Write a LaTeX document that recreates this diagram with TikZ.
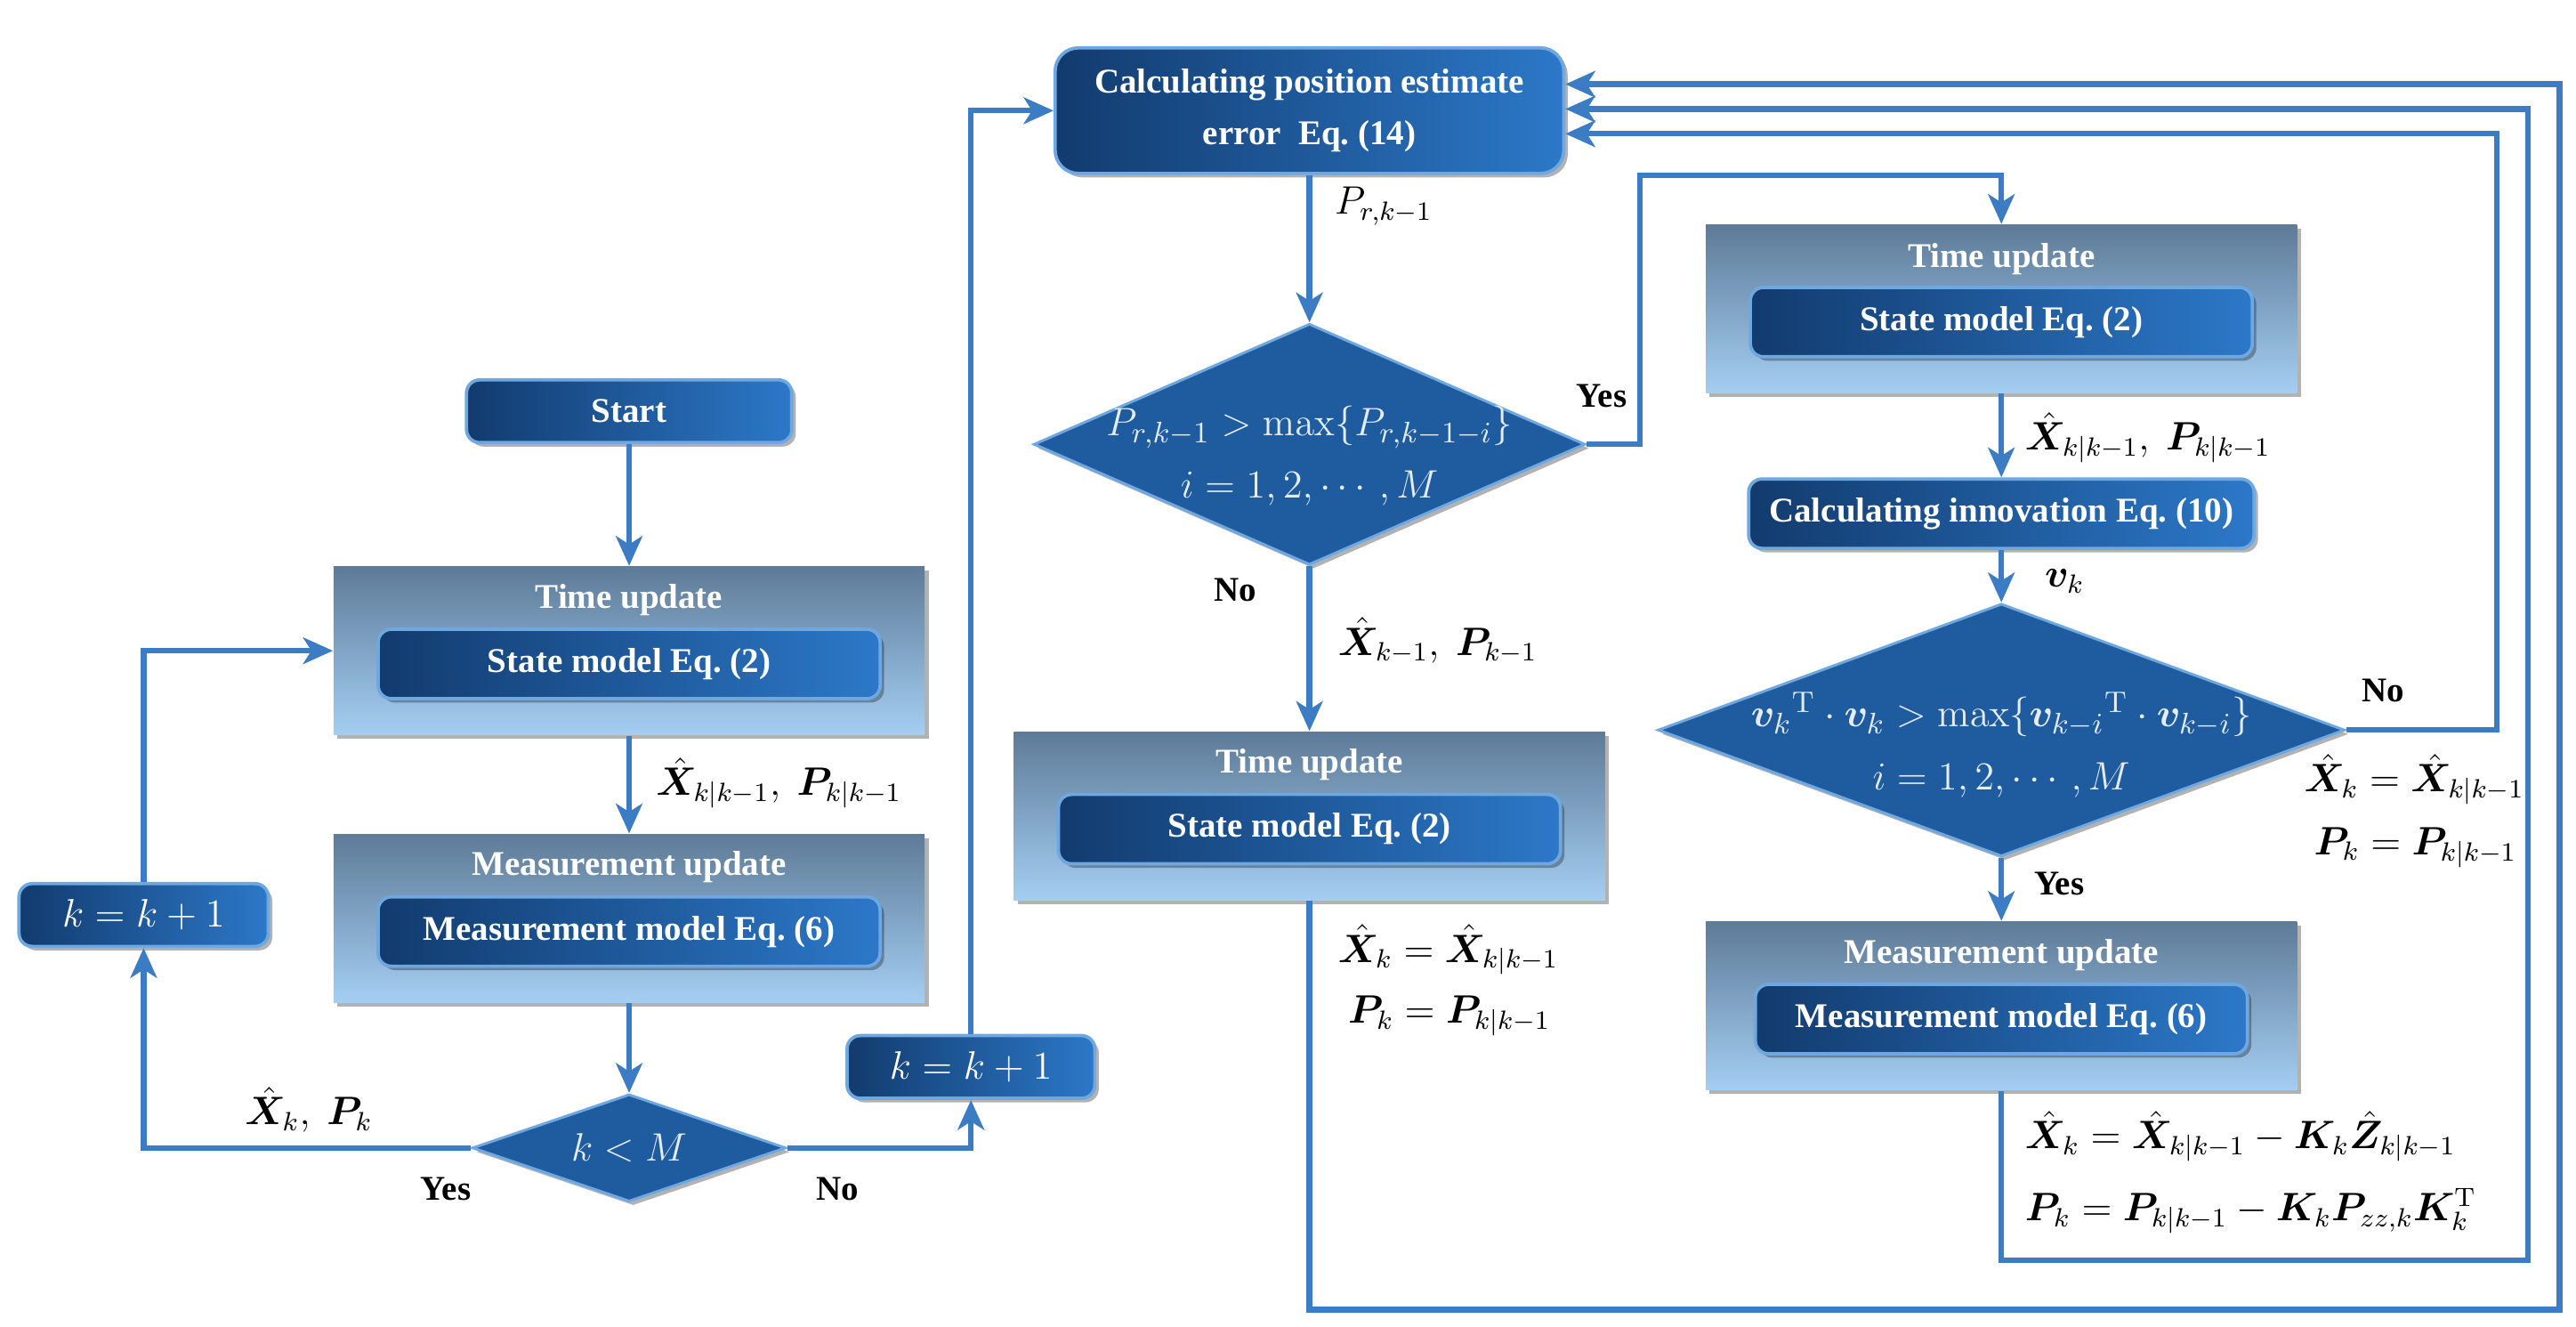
\documentclass[tikz,border=0pt]{standalone}
\usepackage[no-math]{fontspec}
\setmainfont{Liberation Serif}
\usepackage{amsmath}
\usepackage{bm}
\usetikzlibrary{shapes.geometric,arrows.meta,shadows,calc}
\definecolor{linec}{HTML}{3B7CC4}
\definecolor{dkL}{HTML}{123B6E}
\definecolor{dkR}{HTML}{2C78C8}
\definecolor{bordc}{HTML}{6FA8E0}
\definecolor{oTop}{HTML}{5E7B98}
\definecolor{oBot}{HTML}{A4CEF2}
\definecolor{dmdc}{HTML}{1F5C9F}
\definecolor{dtxt}{HTML}{E4ECF6}
\newcommand\bxf{\fontsize{10.5}{12.5}\selectfont\bfseries}
\newcommand\mlf{\fontsize{12}{14}\selectfont}
\newcommand\dmf{\fontsize{12.5}{19}\selectfont}
\tikzset{
  conn/.style={draw=linec, line width=1.7pt},
  arr/.style={conn, -{Stealth[length=9pt,width=8pt,inset=2.5pt]}},
  shad/.style={drop shadow={shadow xshift=1.2pt,shadow yshift=-1.2pt,opacity=0.3,fill=black}},
  dark/.style={rectangle, rounded corners=4pt, draw=bordc, line width=1pt, left color=dkL, right color=dkR, text=white, font=\bxf, inner sep=0pt, shad},
  outer/.style={rectangle, top color=oTop, bottom color=oBot, inner sep=0pt, shad},
  ttl/.style={text=white, font=\bxf, inner sep=0pt},
  dmd/.style={diamond, draw=bordc, line width=0.8pt, fill=dmdc, inner sep=0pt, shad},
  dtext/.style={text=dtxt, font=\dmf, align=center, inner sep=0pt},
  yn/.style={font=\bxf, text=black, inner sep=0pt},
  ml/.style={font=\mlf, text=black, inner sep=0pt, anchor=west},
}
\begin{document}
\begin{tikzpicture}[x=0.5pt,y=-0.5pt]
\useasboundingbox (0,0) rectangle (1560,803);

% ---------------- left column ----------------
\node[dark, minimum width=98.5pt, minimum height=19pt] (start) at (381,249) {Start};

\node[outer, minimum width=179pt, minimum height=51pt] (tu1) at (381,394) {};
\node[ttl] (tu1t) at (381,363) {Time update};
\node[dark, minimum width=152pt, minimum height=21pt] (tu1i) at (381,402) {State model Eq.\ (2)};

\node[outer, minimum width=179pt, minimum height=51pt] (mu1) at (381,556) {};
\node[ttl] (mu1t) at (381,525) {Measurement update};
\node[dark, minimum width=152pt, minimum height=21pt] (mu1i) at (381,564) {Measurement model Eq.\ (6)};

\node[dmd, minimum width=95pt, minimum height=32.5pt] (d0) at (381,695) {};
\node[dtext] (d0t) at (381,695) {$k<M$};

\node[dark, font=\mlf, minimum width=75.5pt, minimum height=19pt] (kL) at (87,554) {$k=k+1$};
\node[dark, font=\mlf, minimum width=75pt, minimum height=19pt] (kR) at (588,646) {$k=k+1$};

% ---------------- middle column ----------------
\node[dark, rounded corners=7pt, align=center, minimum width=154pt, minimum height=38pt] (calc) at (793,67)
  {Calculating position estimate\\[3pt] error\ \ Eq.\ (14)};

\node[dmd, minimum width=167pt, minimum height=73pt] (d1) at (793,269) {};
\node[dtext] (d1t) at (793,276) {$P_{r,k-1}>\max\{P_{r,k-1-i}\}$\\ $i=1,2,\cdots,M$};

\node[outer, minimum width=179pt, minimum height=51pt] (tu2) at (793,494) {};
\node[ttl] (tu2t) at (793,463) {Time update};
\node[dark, minimum width=152pt, minimum height=21pt] (tu2i) at (793,502) {State model Eq.\ (2)};

% ---------------- right column ----------------
\node[outer, minimum width=179pt, minimum height=51pt] (tu3) at (1212,187) {};
\node[ttl] (tu3t) at (1212,157) {Time update};
\node[dark, minimum width=152pt, minimum height=21pt] (tu3i) at (1212,195) {State model Eq.\ (2)};

\node[dark, minimum width=153pt, minimum height=21pt] (innov) at (1212,311) {Calculating innovation Eq.\ (10)};

\node[dmd, minimum width=208pt, minimum height=76.5pt] (d2) at (1212,442) {};
\node[dtext] (d2t) at (1212,451) {$\bm v_k{}^{\mathrm T}\cdot\bm v_k>\max\{\bm v_{k-i}{}^{\mathrm T}\cdot\bm v_{k-i}\}$\\ $i=1,2,\cdots,M$};

\node[outer, minimum width=179pt, minimum height=51pt] (mu3) at (1212,609) {};
\node[ttl] (mu3t) at (1212,578) {Measurement update};
\node[dark, minimum width=149pt, minimum height=21pt] (mu3i) at (1212,617) {Measurement model Eq.\ (6)};

% ---------------- helper coordinates ----------------
\coordinate (y1) at (993,106);
\coordinate (r1) at (1512,81);
\coordinate (r2) at (1531,66);
\coordinate (b2) at (1531,763);
\coordinate (r3) at (1550,51);
\coordinate (b3) at (1550,793);

% ---------------- connectors ----------------
\draw[arr] (start) -- (tu1);
\draw[arr] (tu1) -- (mu1);
\draw[arr] (mu1) -- (d0);
\draw[arr] (d0.west) -| (kL);
\draw[arr] (kL) |- (tu1);
\draw[arr] (d0.east) -| (kR);
\draw[arr] (kR) |- (calc);
\draw[arr] (calc) -- (d1);
\draw[arr] (d1) -- (tu2);
\draw[arr] (d1.east) -| (y1) -| (tu3);
\draw[arr] (tu3) -- (innov);
\draw[arr] (innov) -- (d2);
\draw[arr] (d2) -- (mu3);
\draw[arr] (d2.east) -| (r1) -- (calc.east |- r1);
\draw[arr] (mu3) |- (b2) |- (calc.east |- r2);
\draw[arr] (tu2) |- (b3) |- (calc.east |- r3);

% ---------------- labels ----------------
\node[ml] (lab1) at (397,474) {$\hat{\bm X}_{k|k-1},\ \bm P_{k|k-1}$};
\node[ml] (lab2) at (148,672) {$\hat{\bm X}_k,\ \bm P_k$};
\node[yn] (yes0) at (270,720) {Yes};
\node[yn] (no0) at (507,720) {No};
\node[ml] (lab3) at (808,125) {$P_{r,k-1}$};
\node[yn] (yes1) at (970,240) {Yes};
\node[yn] (no1) at (748,357) {No};
\node[ml] (lab4) at (810,388) {$\hat{\bm X}_{k-1},\ \bm P_{k-1}$};
\node[ml] (lab5) at (810,575) {$\hat{\bm X}_k=\hat{\bm X}_{k|k-1}$};
\node[ml] (lab6) at (816,615) {$\bm P_k=\bm P_{k|k-1}$};
\node[ml] (lab7) at (1226,265) {$\hat{\bm X}_{k|k-1},\ \bm P_{k|k-1}$};
\node[ml] (lab8) at (1238,352) {$\bm v_k$};
\node[yn] (no2) at (1443,418) {No};
\node[ml] (lab9) at (1395,472) {$\hat{\bm X}_k=\hat{\bm X}_{k|k-1}$};
\node[ml] (lab10) at (1401,513) {$\bm P_k=\bm P_{k|k-1}$};
\node[yn] (yes2) at (1247,535) {Yes};
\node[ml] (lab11) at (1226,688) {$\hat{\bm X}_k=\hat{\bm X}_{k|k-1}-\bm K_k\hat{\bm Z}_{k|k-1}$};
\node[ml] (lab12) at (1226,733) {$\bm P_k=\bm P_{k|k-1}-\bm K_k\bm P_{zz,k}\bm K_k^{\mathrm T}$};
\end{tikzpicture}
\end{document}
